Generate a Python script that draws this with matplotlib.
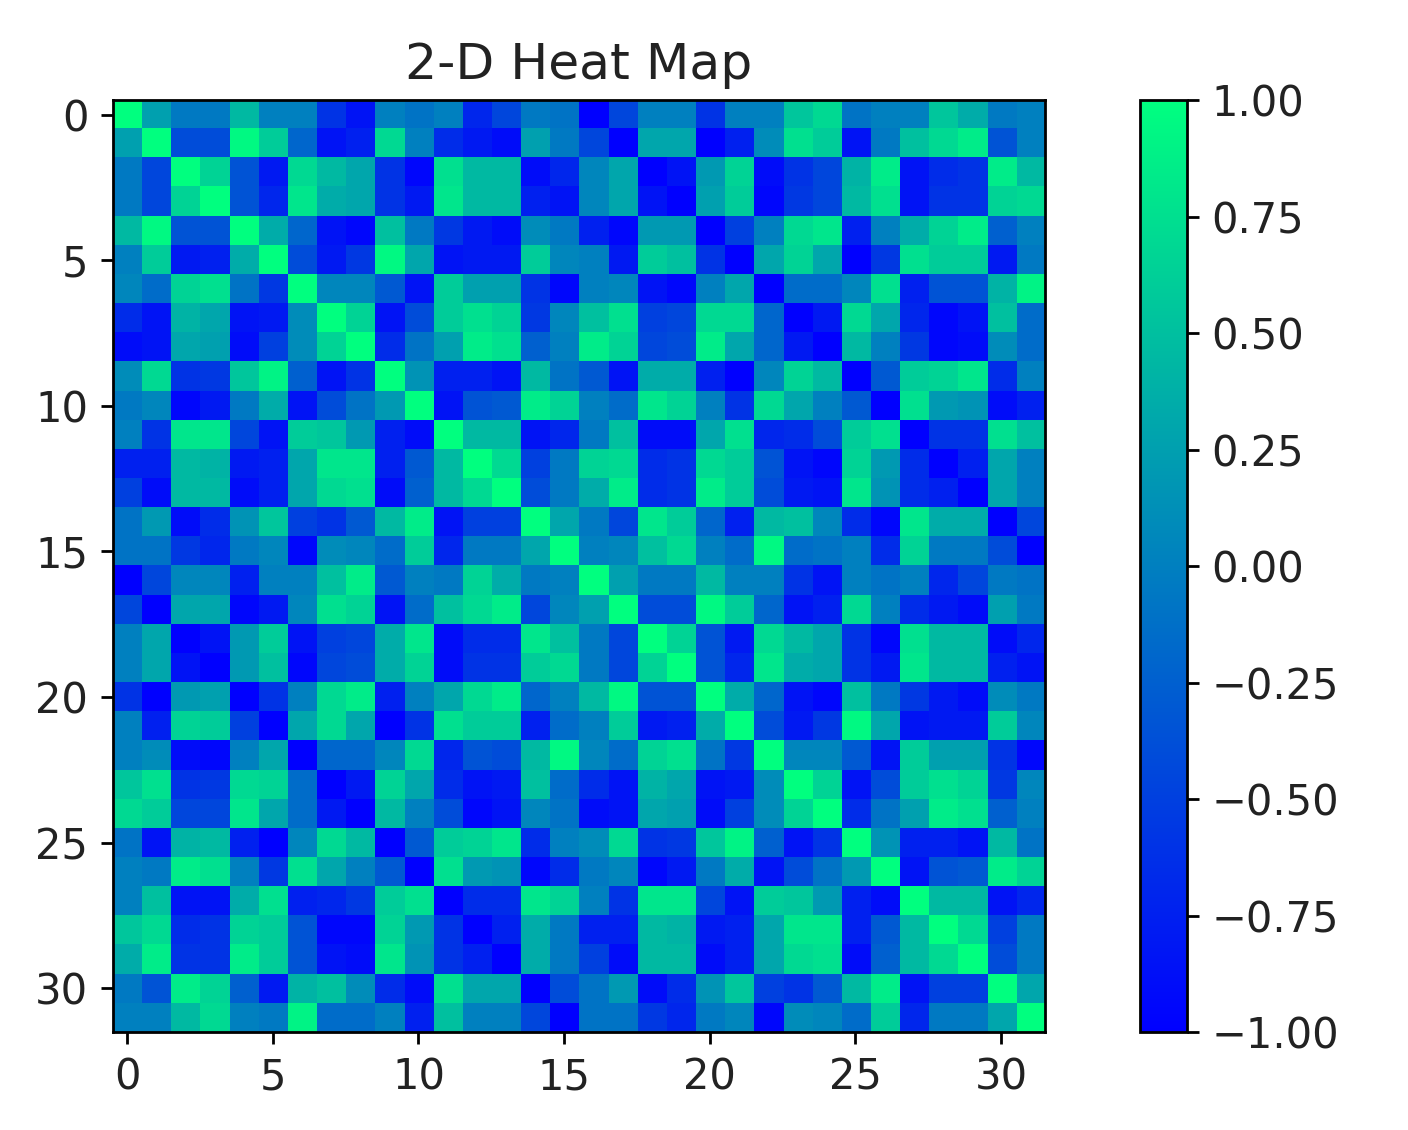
import numpy as np
import matplotlib
matplotlib.use("Agg")
import matplotlib.pyplot as plt

# Diagonal 16x16 block (repeated in top-left and bottom-right)
block_a = [
 [1.0,0.25,-0.05,-0.05,0.45,0.0,0.0,-0.6,-0.85,0.0,-0.1,0.0,-0.7,-0.45,-0.05,-0.1],
 [0.25,1.0,-0.4,-0.4,0.95,0.6,-0.2,-0.85,-0.75,0.7,0.0,-0.65,-0.8,-0.9,0.25,-0.05],
 [-0.05,-0.45,1.0,0.65,-0.35,-0.8,0.7,0.45,0.3,-0.6,-0.95,0.75,0.45,0.45,-0.9,-0.7],
 [-0.05,-0.45,0.65,1.0,-0.35,-0.7,0.8,0.35,0.3,-0.6,-0.8,0.8,0.45,0.45,-0.75,-0.85],
 [0.45,0.95,-0.35,-0.35,1.0,0.35,-0.2,-0.85,-0.95,0.5,-0.05,-0.55,-0.8,-0.9,0.1,-0.05],
 [0.0,0.6,-0.8,-0.75,0.35,1.0,-0.4,-0.8,-0.55,0.95,0.3,-0.85,-0.8,-0.8,0.6,0.05],
 [0.05,-0.15,0.65,0.75,-0.1,-0.55,1.0,0.05,0.05,-0.3,-0.85,0.6,0.25,0.25,-0.6,-0.95],
 [-0.65,-0.85,0.4,0.3,-0.85,-0.8,0.1,1.0,0.65,-0.85,-0.4,0.6,0.75,0.65,-0.55,0.05],
 [-0.9,-0.85,0.3,0.25,-0.9,-0.5,0.1,0.65,1.0,-0.65,-0.1,0.25,0.85,0.75,-0.25,0.0],
 [0.1,0.7,-0.6,-0.55,0.55,0.9,-0.25,-0.85,-0.6,1.0,0.15,-0.75,-0.75,-0.85,0.45,-0.1],
 [-0.05,0.05,-0.95,-0.8,-0.05,0.35,-0.85,-0.4,-0.1,0.2,1.0,-0.85,-0.35,-0.3,0.85,0.65],
 [0.0,-0.6,0.8,0.8,-0.45,-0.85,0.6,0.55,0.2,-0.75,-0.9,1.0,0.45,0.45,-0.85,-0.7],
 [-0.75,-0.75,0.45,0.4,-0.8,-0.75,0.3,0.8,0.8,-0.75,-0.3,0.45,1.0,0.7,-0.5,-0.05],
 [-0.5,-0.9,0.45,0.45,-0.9,-0.75,0.3,0.7,0.75,-0.9,-0.25,0.45,0.7,1.0,-0.4,-0.05],
 [-0.1,0.2,-0.9,-0.65,0.15,0.55,-0.5,-0.6,-0.3,0.45,0.85,-0.85,-0.5,-0.5,1.0,0.3],
 [-0.1,-0.1,-0.55,-0.7,-0.05,0.05,-0.95,0.1,0.05,-0.15,0.6,-0.7,-0.05,-0.05,0.3,1.0],
]
# Off-diagonal block (top-right; bottom-left is its transpose)
block_b = [
 [-1.0,-0.45,0.0,0.0,-0.6,0.0,0.0,0.55,0.7,-0.1,0.0,0.0,0.55,0.35,-0.05,0.0],
 [-0.45,-1.0,0.3,0.3,-1.0,-0.75,0.1,0.75,0.6,-0.85,-0.05,0.5,0.7,0.85,-0.35,0.0],
 [0.05,0.3,-1.0,-0.85,0.2,0.65,-0.9,-0.6,-0.45,0.4,0.85,-0.85,-0.65,-0.6,0.85,0.45],
 [0.05,0.3,-0.85,-1.0,0.25,0.6,-0.95,-0.55,-0.45,0.45,0.75,-0.85,-0.6,-0.6,0.65,0.7],
 [-0.75,-0.95,0.2,0.2,-1.0,-0.5,0.0,0.7,0.8,-0.75,0.0,0.35,0.65,0.85,-0.25,0.0],
 [0.0,-0.8,0.6,0.5,-0.6,-1.0,0.3,0.65,0.3,-1.0,-0.55,0.75,0.6,0.6,-0.8,-0.05],
 [0.0,0.05,-0.85,-0.95,0.0,0.3,-1.0,-0.15,-0.15,0.05,0.75,-0.75,-0.35,-0.35,0.4,0.9],
 [0.5,0.75,-0.5,-0.45,0.7,0.7,-0.2,-1.0,-0.8,0.7,0.3,-0.7,-0.95,-0.85,0.5,-0.15],
 [0.85,0.65,-0.45,-0.4,0.85,0.3,-0.2,-0.8,-1.0,0.45,0.0,-0.55,-0.95,-0.9,0.1,-0.15],
 [-0.3,-0.85,0.35,0.35,-0.75,-1.0,0.05,0.65,0.45,-1.0,-0.3,0.6,0.65,0.8,-0.65,0.0],
 [0.0,-0.15,0.8,0.65,0.0,-0.6,0.7,0.3,0.0,-0.3,-1.0,0.75,0.2,0.15,-0.9,-0.75],
 [-0.05,0.5,-0.9,-0.9,0.3,0.75,-0.7,-0.65,-0.4,0.6,0.75,-1.0,-0.6,-0.6,0.75,0.5],
 [0.65,0.7,-0.65,-0.6,0.7,0.6,-0.35,-0.85,-0.95,0.65,0.2,-0.65,-1.0,-0.75,0.3,0.0],
 [0.35,0.85,-0.65,-0.6,0.85,0.6,-0.4,-0.8,-0.85,0.8,0.15,-0.65,-0.75,-1.0,0.3,0.0],
 [-0.05,-0.45,0.8,0.6,-0.2,-0.75,0.45,0.5,0.05,-0.65,-0.95,0.8,0.35,0.35,-1.0,-0.45],
 [0.0,0.05,0.5,0.7,0.0,-0.15,0.95,-0.15,-0.1,0.0,-0.65,0.65,-0.05,-0.05,-0.4,-1.0],
]
title = "2-D Heat Map"

A = np.array(block_a)
B = np.array(block_b)
data = np.block([[A, B], [B.T, A]])

fig = plt.figure(figsize=(5.632, 4.52), dpi=250)
ax = fig.add_axes([0.080, 0.0867, 0.662, 0.8248])
im = ax.imshow(data, cmap="winter", vmin=-1, vmax=1, interpolation="nearest", aspect="auto")
ax.set_title(title, fontsize=14.5, color="#222222")
ax.set_xticks(range(0, 32, 5))
ax.set_yticks(range(0, 32, 5))
ax.tick_params(labelsize=12, labelcolor="#222222")
cax = fig.add_axes([0.8097, 0.0867, 0.0334, 0.8248])
cb = fig.colorbar(im, cax=cax, ticks=np.linspace(-1, 1, 9))
cb.ax.yaxis.set_major_formatter(matplotlib.ticker.FuncFormatter(
    lambda v, p: ("%.2f" % v).replace("-", "\u2212")))
cb.ax.tick_params(labelsize=12, labelcolor="#222222")
fig.savefig("out.png", dpi=250)
